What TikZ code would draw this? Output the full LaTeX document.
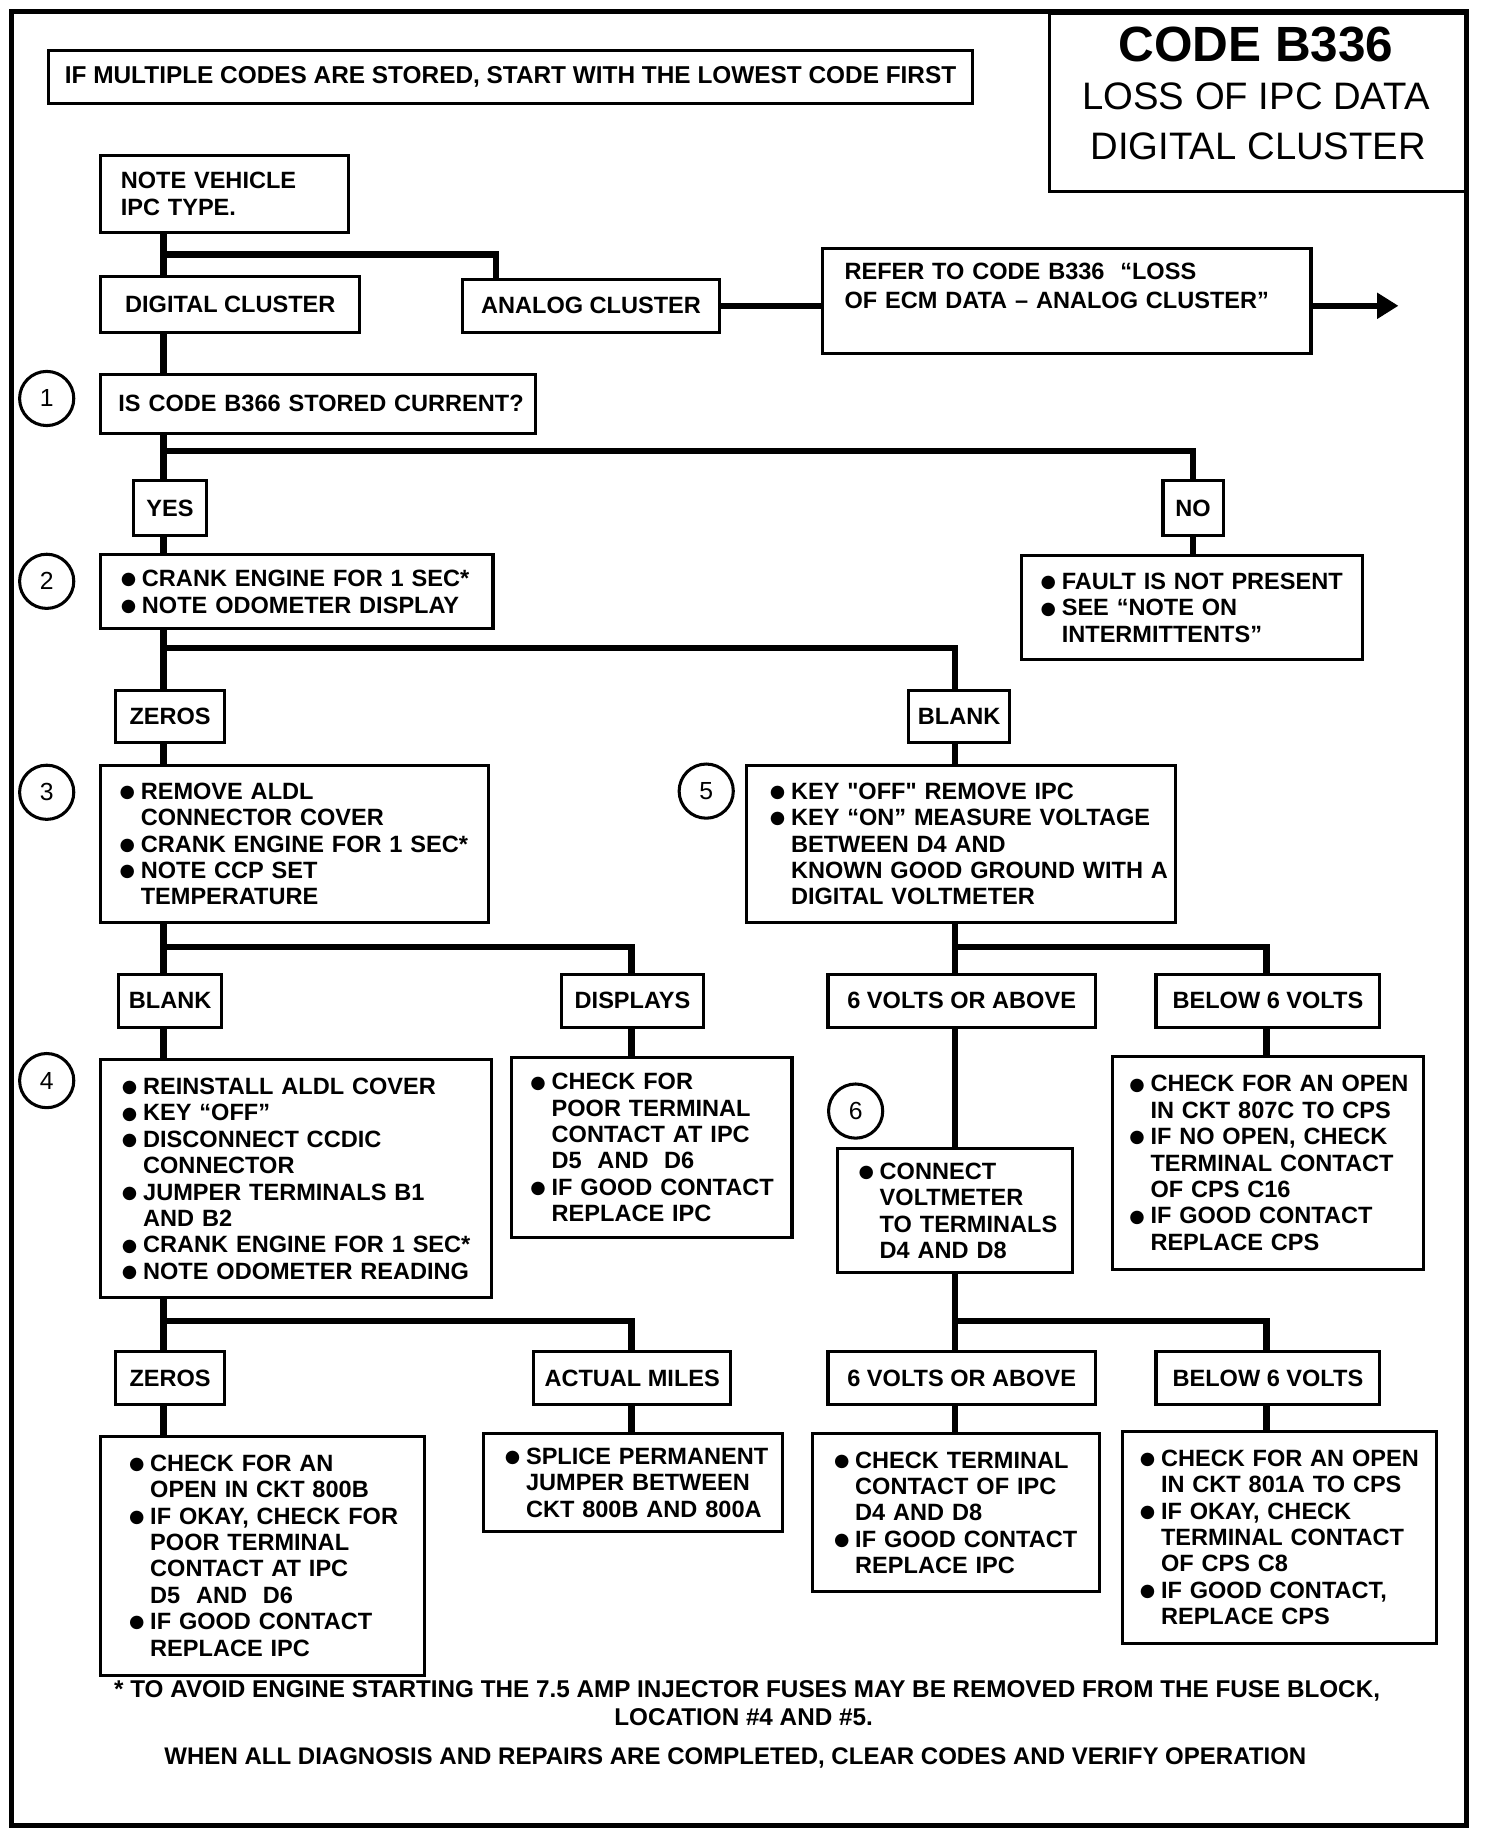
\documentclass[tikz,border=0pt]{standalone}
\usepackage{fontspec}
\setmainfont{Liberation Sans}[Ligatures=TeXOff]
\newfontfamily\dotfont{DejaVu Sans}
\usepackage{tikz}
\usetikzlibrary{positioning,calc,arrows.meta}
\newcommand\txt{\fontsize{20}{22.4}\selectfont\bfseries}
\newcommand\itm[1]{\mbox{\makebox[18pt][l]{\raisebox{1.5pt}{\dotfont\fontsize{15}{15}\selectfont ●}}#1}}
\newcommand\cnt[1]{\mbox{\hspace*{18pt}#1}}

\begin{document}
\begin{tikzpicture}[x=0.991pt, y=-0.995pt, line width=2.6pt,
    box/.style={draw, anchor=north west, align=left, inner xsep=17pt, inner ysep=0pt, font=\txt},
    lbl/.style={draw, anchor=north west, align=center, inner sep=0pt, font=\txt},
    num/.style={circle, draw, minimum size=46pt, inner sep=0pt, font=\fontsize{21}{21}\selectfont},
    ln/.style={line width=5.5pt},
    ttl/.style={inner sep=0pt}]
	\useasboundingbox (0pt,0pt) rectangle (1263pt,-1557pt);
	\node [draw, line width=4pt, anchor=north west, minimum width=1235pt, minimum height=1540pt] (frame) at (8,8) {};
	% heading
	\node [draw, anchor=north west, minimum width=353pt, minimum height=151pt] (title) at (898,10) {};
	\node [ttl, font=\fontsize{42}{42}\selectfont\bfseries] (t1) at (1076,38) {CODE B336};
	\node [ttl, font=\fontsize{32.5}{33}\selectfont] (t2) at (1076,82) {LOSS OF IPC DATA};
	\node [ttl, font=\fontsize{32.5}{33}\selectfont] (t3) at (1078,125) {DIGITAL CLUSTER};
	\node [lbl, minimum width=785pt, minimum height=45pt, font=\fontsize{20.7}{21}\selectfont\bfseries] (top) at (40,42) {IF MULTIPLE CODES ARE STORED, START WITH THE LOWEST CODE FIRST};
	% columns and junctions
	\coordinate (c1) at (140,0);
	\coordinate (ca) at (425,0);
	\coordinate (c2) at (541,0);
	\coordinate (c3) at (818,0);
	\coordinate (c4) at (1085,0);
	\coordinate (j1) at (140,217);
	\coordinate (j2) at (140,385);
	\coordinate (j3) at (140,553);
	\coordinate (j4) at (140,808);
	\coordinate (j5) at (818,808);
	\coordinate (j6) at (140,1127);
	\coordinate (j7) at (818,1127);
	\coordinate (tip) at (1198,0);
	% step numbers
	\node [num] (n1) at (40,340) {1};
	\node [num] (n2) at (40,496) {2};
	\node [num] (n3) at (40,676) {3};
	\node [num] (n4) at (40,922) {4};
	\node [num] (n5) at (605,675) {5};
	\node [num] (n6) at (733,948) {6};
	% boxes
	\node [box, text width=176pt, minimum width=210pt, minimum height=66pt] (note) at (85,131) {NOTE VEHICLE\\IPC TYPE.};
	\node [lbl, minimum width=220pt, minimum height=47pt] (dig) at (85,235) {DIGITAL CLUSTER};
	\node [lbl, minimum width=218pt, minimum height=45pt] (ana) at (395,237) {ANALOG CLUSTER};
	\node [box, inner xsep=19pt, text width=377pt, minimum width=415pt, minimum height=89pt] (refer) at (703,211) {REFER TO CODE B336~~“LOSS\\[2.7pt]OF ECM DATA – ANALOG CLUSTER”\\[4.2pt]\mbox{}};
	\node [box, inner xsep=15pt, text width=339pt, minimum width=369pt, minimum height=50pt] (q1) at (85,318) {\mbox{IS CODE B366 STORED CURRENT?}};
	\node [lbl, minimum width=62pt, minimum height=46pt] (yes) at (113,409) {YES};
	\node [lbl, minimum width=51pt, minimum height=46pt] (no) at (995,409) {NO};
	\node [box, text width=299pt, minimum width=333pt, minimum height=63pt] (b2) at (85,472) {\itm{CRANK ENGINE FOR 1 SEC*}\\\itm{NOTE ODOMETER DISPLAY}};
	\node [box, inner xsep=16pt, text width=257pt, minimum width=289pt, minimum height=88pt] (fault) at (874,473) {\itm{FAULT IS NOT PRESENT}\\\itm{SEE “NOTE ON}\\\cnt{INTERMITTENTS”}};
	\node [lbl, minimum width=92pt, minimum height=44pt] (zer1) at (98,588) {ZEROS};
	\node [lbl, minimum width=86pt, minimum height=44pt] (blk1) at (777,588) {BLANK};
	\node [box, inner xsep=16pt, text width=297pt, minimum width=329pt, minimum height=133pt] (b3) at (85,652) {\itm{REMOVE ALDL}\\\cnt{CONNECTOR COVER}\\\itm{CRANK ENGINE FOR 1 SEC*}\\\itm{NOTE CCP SET}\\\cnt{TEMPERATURE}};
	\node [box, inner xsep=20pt, text width=324pt, minimum width=364pt, minimum height=133pt] (b5) at (638,652) {\itm{KEY "OFF" REMOVE IPC}\\\itm{KEY “ON” MEASURE VOLTAGE}\\\cnt{BETWEEN D4 AND}\\\cnt{KNOWN GOOD GROUND WITH A}\\\cnt{DIGITAL VOLTMETER}};
	\node [lbl, minimum width=88pt, minimum height=45pt] (blk2) at (100,830) {BLANK};
	\node [lbl, minimum width=120pt, minimum height=45pt] (disp) at (480,830) {DISPLAYS};
	\node [lbl, minimum width=227pt, minimum height=45pt] (v6a) at (708,830) {6 VOLTS OR ABOVE};
	\node [lbl, minimum width=190pt, minimum height=45pt] (bel1) at (989,830) {BELOW 6 VOLTS};
	\node [box, inner xsep=18pt, text width=296pt, minimum width=332pt, minimum height=202pt] (b4) at (85,903) {\itm{REINSTALL ALDL COVER}\\\itm{KEY “OFF”}\\\itm{DISCONNECT CCDIC}\\\cnt{CONNECTOR}\\\itm{JUMPER TERMINALS B1}\\\cnt{AND B2}\\\itm{CRANK ENGINE FOR 1 SEC*}\\\itm{NOTE ODOMETER READING}};
	\node [box, inner xsep=16pt, text width=206pt, minimum width=238pt, minimum height=153pt] (bdisp) at (437,901) {\itm{CHECK FOR}\\\cnt{POOR TERMINAL}\\\cnt{CONTACT AT IPC}\\\cnt{D5~~AND~~D6}\\\itm{IF GOOD CONTACT}\\\cnt{REPLACE IPC}};
	\node [box, inner xsep=18pt, text width=164pt, minimum width=200pt, minimum height=105pt] (b6) at (716,979) {\itm{CONNECT}\\\cnt{VOLTMETER}\\\cnt{TO TERMINALS}\\\cnt{D4 AND D8}};
	\node [box, inner xsep=14pt, text width=236pt, minimum width=264pt, minimum height=181pt] (bbel1) at (952,900) {\itm{CHECK FOR AN OPEN}\\\cnt{IN CKT 807C TO CPS}\\\itm{IF NO OPEN, CHECK}\\\cnt{TERMINAL CONTACT}\\\cnt{OF CPS C16}\\\itm{IF GOOD CONTACT}\\\cnt{REPLACE CPS}};
	\node [lbl, minimum width=92pt, minimum height=45pt] (zer2) at (98,1152) {ZEROS};
	\node [lbl, minimum width=167pt, minimum height=45pt] (act) at (456,1152) {ACTUAL MILES};
	\node [lbl, minimum width=227pt, minimum height=45pt] (v6b) at (708,1152) {6 VOLTS OR ABOVE};
	\node [lbl, minimum width=190pt, minimum height=45pt] (bel2) at (989,1152) {BELOW 6 VOLTS};
	\node [box, inner xsep=24pt, text width=227pt, minimum width=275pt, minimum height=203pt] (bz2) at (85,1224) {\itm{CHECK FOR AN}\\\cnt{OPEN IN CKT 800B}\\\itm{IF OKAY, CHECK FOR}\\\cnt{POOR TERMINAL}\\\cnt{CONTACT AT IPC}\\\cnt{D5~~AND~~D6}\\\itm{IF GOOD CONTACT}\\\cnt{REPLACE IPC}};
	\node [box, inner xsep=18pt, text width=218pt, minimum width=254pt, minimum height=83pt] (bact) at (413,1222) {\itm{SPLICE PERMANENT}\\\cnt{JUMPER BETWEEN}\\\cnt{CKT 800B AND 800A}};
	\node [box, inner xsep=18pt, text width=207pt, minimum width=243pt, minimum height=134pt] (bv6b) at (695,1222) {\itm{CHECK TERMINAL}\\\cnt{CONTACT OF IPC}\\\cnt{D4 AND D8}\\\itm{IF GOOD CONTACT}\\\cnt{REPLACE IPC}};
	\node [box, inner xsep=15pt, text width=237pt, minimum width=267pt, minimum height=180pt] (bbel2) at (960,1220) {\itm{CHECK FOR AN OPEN}\\\cnt{IN CKT 801A TO CPS}\\\itm{IF OKAY, CHECK}\\\cnt{TERMINAL CONTACT}\\\cnt{OF CPS C8}\\\itm{IF GOOD CONTACT,}\\\cnt{REPLACE CPS}};
	% footnotes
	\node [ttl, font=\fontsize{20.6}{22}\selectfont\bfseries] (fn1) at (640,1443) {* TO AVOID ENGINE STARTING THE 7.5 AMP INJECTOR FUSES MAY BE REMOVED FROM THE FUSE BLOCK,};
	\node [ttl, font=\fontsize{20.6}{22}\selectfont\bfseries] (fn2) at (637,1465) {LOCATION \#4 AND \#5.};
	\node [ttl, font=\fontsize{20.4}{22}\selectfont\bfseries] (fn3) at (630,1500) {WHEN ALL DIAGNOSIS AND REPAIRS ARE COMPLETED, CLEAR CODES AND VERIFY OPERATION};
	% connectors
	\draw[ln] (note.south -| c1) -- (dig.north -| c1);
	\draw[ln] (j1) -| (ana.north -| ca);
	\draw[ln] (ana.east) -- (refer.west |- ana.east);
	\draw[ln, -{Triangle[length=18pt,width=21pt]}] (refer.east |- ana.east) -- (tip |- ana.east);
	\draw[ln] (dig.south -| c1) -- (q1.north -| c1);
	\draw[ln] (q1.south -| c1) -- (yes.north -| c1);
	\draw[ln] (j2) -| (no.north);
	\draw[ln] (yes.south -| c1) -- (b2.north -| c1);
	\draw[ln] (no.south) -- (fault.north -| no.south);
	\draw[ln] (b2.south -| c1) -- (zer1.north -| c1);
	\draw[ln] (j3) -| (blk1.north -| c3);
	\draw[ln] (zer1.south -| c1) -- (b3.north -| c1);
	\draw[ln] (blk1.south -| c3) -- (b5.north -| c3);
	\draw[ln] (b3.south -| c1) -- (blk2.north -| c1);
	\draw[ln] (j4) -| (disp.north -| c2);
	\draw[ln] (b5.south -| c3) -- (v6a.north -| c3);
	\draw[ln] (j5) -| (bel1.north -| c4);
	\draw[ln] (blk2.south -| c1) -- (b4.north -| c1);
	\draw[ln] (disp.south -| c2) -- (bdisp.north -| c2);
	\draw[ln] (v6a.south -| c3) -- (b6.north -| c3);
	\draw[ln] (bel1.south -| c4) -- (bbel1.north -| c4);
	\draw[ln] (b4.south -| c1) -- (zer2.north -| c1);
	\draw[ln] (j6) -| (act.north -| c2);
	\draw[ln] (b6.south -| c3) -- (v6b.north -| c3);
	\draw[ln] (j7) -| (bel2.north -| c4);
	\draw[ln] (zer2.south -| c1) -- (bz2.north -| c1);
	\draw[ln] (act.south -| c2) -- (bact.north -| c2);
	\draw[ln] (v6b.south -| c3) -- (bv6b.north -| c3);
	\draw[ln] (bel2.south -| c4) -- (bbel2.north -| c4);
\end{tikzpicture}
\end{document}
